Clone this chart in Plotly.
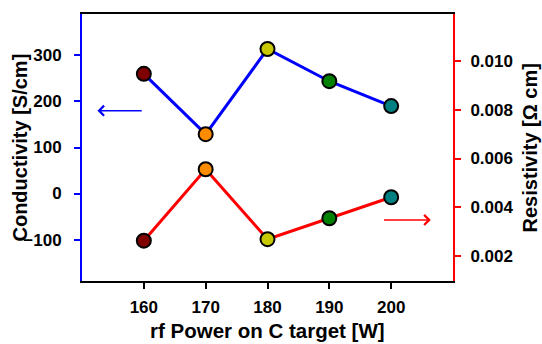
import plotly.graph_objects as go

power = [160, 170, 180, 190, 200]
conductivity = [260, 129, 314, 244, 190]
resistivity = [0.00263, 0.00556, 0.00269, 0.00355, 0.00441]
point_colors = ["#800000", "#FF8C00", "#C8C800", "#008000", "#008080"]
x_ticks = [160, 170, 180, 190, 200]
left_ticks = [-100, 0, 100, 200, 300]
right_ticks = [0.002, 0.004, 0.006, 0.008, 0.010]
right_labels = ["0.002", "0.004", "0.006", "0.008", "0.010"]
x_title = "rf Power on C target [W]"
y_title = "Conductivity [S/cm]"
y2_title = "Resistivity [Ω cm]"

FONT = "Liberation Sans, Arial, sans-serif"

fig = go.Figure()
fig.add_trace(go.Scatter(
    x=power, y=conductivity, mode="lines+markers",
    line=dict(color="#0000FF", width=3),
    marker=dict(size=14, color=point_colors, line=dict(color="black", width=2)),
    showlegend=False, cliponaxis=False))
fig.add_trace(go.Scatter(
    x=power, y=resistivity, mode="lines+markers", yaxis="y2",
    line=dict(color="#FF0000", width=3),
    marker=dict(size=14, color=point_colors, line=dict(color="black", width=2)),
    showlegend=False, cliponaxis=False))

fig.update_layout(
    width=542, height=344,
    margin=dict(l=82, r=89, t=14, b=63),
    paper_bgcolor="white", plot_bgcolor="white",
    font=dict(family=FONT, color="black"),
    xaxis=dict(
        range=[150, 210], tickvals=x_ticks, ticks="outside", ticklen=6,
        tickwidth=1.5, tickcolor="black", showline=True, linecolor="black",
        linewidth=2, mirror=True, showgrid=False, zeroline=False,
        automargin=False,
        tickfont=dict(size=17, family=FONT, weight="bold"),
        ticklabelstandoff=4,
    ),
    yaxis=dict(
        range=[-190, 390], tickvals=left_ticks, ticks="outside", ticklen=6,
        tickwidth=1.5, tickcolor="#0000FF", showline=True, linecolor="#0000FF",
        linewidth=2, showgrid=False, zeroline=False, automargin=False,
        tickfont=dict(size=17, family=FONT, weight="bold"),
        ticklabelstandoff=9,
    ),
    yaxis2=dict(
        overlaying="y", side="right",
        range=[0.000975, 0.01193], tickvals=right_ticks, ticktext=right_labels,
        ticks="outside", ticklen=6, tickwidth=1.5, tickcolor="#FF0000",
        showline=True, linecolor="#FF0000", linewidth=2, showgrid=False,
        zeroline=False, automargin=False,
        tickfont=dict(size=17, family=FONT, weight="bold"),
        ticklabelstandoff=6,
    ),
)

# axis titles
fig.add_annotation(text="<b>%s</b>" % x_title, xref="paper", yref="paper",
                   x=0.5, y=-0.186, xanchor="center", yanchor="middle",
                   showarrow=False, font=dict(size=20.5, family=FONT, color="black"))
fig.add_annotation(text="<b>%s</b>" % y_title, xref="paper", yref="paper",
                   x=-0.1698, y=0.5, xanchor="center", yanchor="middle", textangle=-90,
                   showarrow=False, font=dict(size=20, family=FONT, color="black"))
fig.add_annotation(text="<b>%s</b>" % y2_title, xref="paper", yref="paper",
                   x=1.2075, y=0.5, xanchor="center", yanchor="middle", textangle=-90,
                   showarrow=False, font=dict(size=20, family=FONT, color="black"))

# direction arrows
fig.add_annotation(
    x=152.5, y=180, ax=159.9, ay=180, xref="x", yref="y", axref="x", ayref="y",
    text="", showarrow=True, arrowhead=4, arrowsize=1.3, arrowwidth=1.5,
    arrowcolor="#0000FF")
fig.add_annotation(
    x=206.4, y=0.00348, ax=198.6, ay=0.00348, xref="x", yref="y2", axref="x", ayref="y2",
    text="", showarrow=True, arrowhead=4, arrowsize=1.3, arrowwidth=1.5,
    arrowcolor="#FF0000")

fig.write_html("out.html")
